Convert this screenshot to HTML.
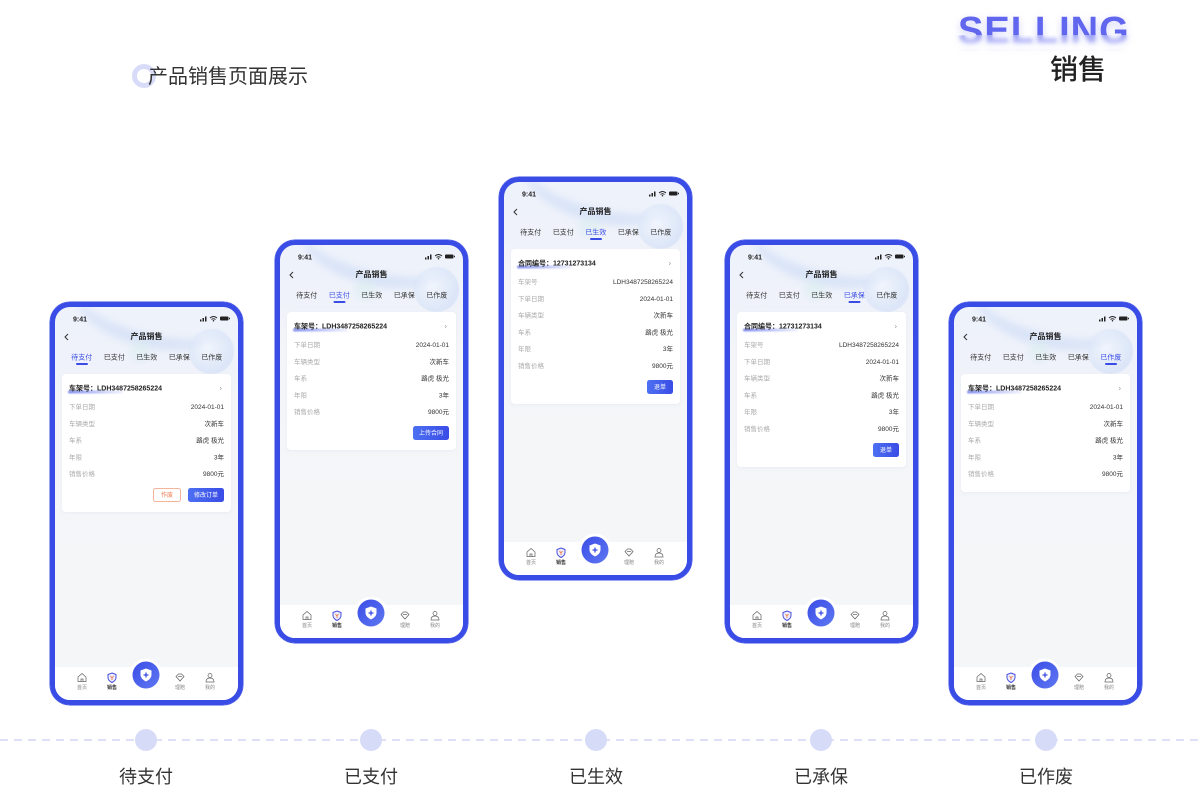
<!DOCTYPE html>
<html><head><meta charset="utf-8">
<style>
*{margin:0;padding:0;box-sizing:border-box}
body{width:1200px;height:800px;background:#fff;position:relative;overflow:hidden;font-family:"Liberation Sans","Noto Sans CJK SC",sans-serif;color:#333}
.abs{position:absolute}
.ph{position:absolute;width:386px;height:806px;transform:scale(.5);transform-origin:0 0;border:10px solid #3a4ce6;border-radius:40px;overflow:hidden;background:linear-gradient(180deg,#eef2fb 0,#eff2fa 110px,#f3f5f8 200px,#f5f6f8 100%);box-shadow:0 0 0 1px #3a4ce6}
.ph .circ{position:absolute;left:268px;top:44px;width:90px;height:90px;border-radius:50%;background:radial-gradient(circle at 40% 40%,rgba(245,248,255,.6) 0,rgba(215,228,248,.6) 50%,rgba(195,213,244,.5) 80%,rgba(210,222,246,.2) 100%);filter:blur(1px)}
.ph .sw{position:absolute;left:40px;top:-70px;width:300px;height:150px;border-radius:50%;border-bottom:26px solid rgba(175,200,240,.35);filter:blur(8px);transform:rotate(14deg)}
.ph .sw2{position:absolute;left:150px;top:70px;width:40px;height:40px;border-radius:50%;background:rgba(215,238,238,.5);filter:blur(6px)}
.ph .st{position:absolute;left:36px;top:14px;font-size:14px;font-weight:bold;color:#222;line-height:20px}
.ph .ic{position:absolute;left:290px;top:17px}
.ph .bk{position:absolute;left:18px;top:52px}
.ph .tt{position:absolute;left:0;top:48px;width:100%;text-align:center;font-size:16px;font-weight:bold;color:#222;line-height:24px}
.ph .tabs{position:absolute;left:21px;top:88px;display:flex}
.ph .tabs div{width:65px;text-align:center;font-size:14px;line-height:24px;color:#333}
.ph .tabs div.a{color:#3a4ce6}
.ph .ul{position:absolute;top:112px;width:24px;height:4px;border-radius:2px;background:#3a4ce6}
.ph .card{position:absolute;left:14px;top:134px;width:338px;background:#fff;border-radius:8px;padding:12px 14px 20px 14px;box-shadow:0 2px 6px rgba(120,130,180,.08)}
.ph .h{display:flex;justify-content:space-between;height:32px;line-height:32px;font-size:14px;font-weight:bold;color:#222;position:relative}
.ph .h span{position:relative;z-index:1}
.ph .h:before{content:"";position:absolute;left:-2px;top:21px;width:110px;height:6px;border-radius:3px;background:linear-gradient(90deg,rgba(80,100,235,.7),rgba(120,140,240,.1));filter:blur(1.5px)}
.ph .h i{font-style:normal;font-weight:normal;color:#888;font-size:14px;margin-right:4px}
.ph .rows{margin-top:5px}
.ph .r{display:flex;justify-content:space-between;height:33.6px;line-height:33.6px;font-size:13px}
.ph .r span:first-child{color:#aaa}
.ph .r span:last-child{color:#333}
.ph .btns{margin-top:11px;display:flex;justify-content:flex-end;gap:14px}
.ph .btn{height:28px;line-height:28px;font-size:12px;border-radius:5px;text-align:center;color:#fff;background:linear-gradient(90deg,#4d70f2,#3a4ce6)}
.ph .btn.o{background:#fff;color:#ef7a4c;border:2px solid #f3b49a;line-height:24px}
.ph .nav{position:absolute;left:0;top:720px;width:366px;height:66px;background:#fff}
.ph .ni{position:absolute;top:10px;width:40px;text-align:center}
.ph .ni svg{display:block;margin:0 auto}
.ph .ni div{font-size:10px;color:#888;line-height:14px;margin-top:3px}
.ph .ni.a div{color:#333;font-weight:bold}
.ph .cb{position:absolute;left:155px;top:709px;width:54px;height:54px;border-radius:50%;background:linear-gradient(135deg,#3a4ce6,#5f78f2);box-shadow:0 0 0 6px #fff}
.ph .cb svg{position:absolute;left:15px;top:13px}
.tl{position:absolute;left:0;top:739px;width:1200px;height:2px;background:repeating-linear-gradient(90deg,#dde0f6 0,#dde0f6 8px,transparent 8px,transparent 14px)}
.dot{position:absolute;top:729px;width:22px;height:22px;border-radius:50%;background:#d6dbf8}
.lb{position:absolute;top:766px;width:120px;text-align:center;font-size:18px;line-height:22px;color:#333}
.sell{position:absolute;left:958px;top:12px;font-size:38px;line-height:38px;font-weight:bold;letter-spacing:1px}
.sell.g{color:#6166ee}
.sell.b{color:rgba(120,125,240,.35);filter:blur(4px);top:15px}
.sellov{position:absolute;left:952px;top:35px;width:186px;height:14px;background:linear-gradient(180deg,rgba(255,255,255,.35),rgba(255,255,255,.75));backdrop-filter:blur(2px);-webkit-backdrop-filter:blur(2px)}
</style></head>
<body>

<div class="abs" style="left:132px;top:64px;width:24px;height:24px;border-radius:50%;border:5px solid #d8dcf8"></div>
<div class="abs" style="left:148px;top:67px;font-size:20px;line-height:20px;color:#333">产品销售页面展示</div>

<div class="sell b">SELLING</div>
<div class="sell g">SELLING</div>
<div class="sellov"></div>
<div class="abs" style="left:1050px;top:56px;font-size:28px;line-height:28px;font-weight:500;color:#222">销售</div>

<!-- Phone 1 -->
<div class="ph" style="left:50px;top:302px">
  <div class="sw"></div><div class="sw2"></div><div class="circ"></div>
  <div class="st">9:41</div>
  <svg class="ic" width="60" height="12" viewBox="0 0 60 12"><rect x="0" y="8" width="3" height="4" fill="#222"/><rect x="5" y="5" width="3" height="7" fill="#222"/><rect x="10" y="2" width="3" height="10" fill="#222"/><path d="M20 5 Q27 -1 34 5" stroke="#222" stroke-width="2" fill="none"/><path d="M23 8 Q27 5 31 8" stroke="#222" stroke-width="2" fill="none"/><circle cx="27" cy="10.5" r="1.5" fill="#222"/><rect x="40" y="2" width="17" height="8" rx="2" fill="#222"/><rect x="58" y="4.5" width="2" height="3" fill="#222"/></svg>
  <svg class="bk" width="10" height="16"><polyline points="8,2 2,8 8,14" stroke="#333" stroke-width="2" fill="none"/></svg>
  <div class="tt">产品销售</div>
  <div class="tabs"><div class="a">待支付</div><div>已支付</div><div>已生效</div><div>已承保</div><div>已作废</div></div>
  <div class="ul" style="left:41.5px"></div>
  <div class="card">
    <div class="h"><span>车架号：LDH3487258265224</span><i>›</i></div>
    <div class="rows">
      <div class="r"><span>下单日期</span><span>2024-01-01</span></div>
      <div class="r"><span>车辆类型</span><span>次新车</span></div>
      <div class="r"><span>车系</span><span>路虎 极光</span></div>
      <div class="r"><span>年限</span><span>3年</span></div>
      <div class="r"><span>销售价格</span><span>9800元</span></div>
    </div>
    <div class="btns"><div class="btn o" style="width:56px">作废</div><div class="btn" style="width:72px">修改订单</div></div>
  </div>
  <div class="nav">
    <div class="ni" style="left:34px"><svg width="22" height="22" viewBox="0 0 22 22"><path d="M3 10 L11 3 L19 10 V19 H3 Z" stroke="#666" stroke-width="1.5" fill="none"/><path d="M9 19 V14 H13 V19" stroke="#666" stroke-width="1.5" fill="none"/></svg><div>首页</div></div>
    <div class="ni a" style="left:94px"><svg width="22" height="22" viewBox="0 0 22 22"><path d="M11 2 L19 5 V11 C19 16 15 19 11 21 C7 19 3 16 3 11 V5 Z" stroke="#4a4fdc" stroke-width="2" fill="#eceefc"/><path d="M8 8 L11 12 L14 8 M11 12 V16" stroke="#ef7a4c" stroke-width="1.8" fill="none"/></svg><div>销售</div></div>
    <div class="ni" style="left:230px"><svg width="22" height="22" viewBox="0 0 22 22"><path d="M3 9 L8 4 H14 L19 9 L11 18 Z" stroke="#666" stroke-width="1.5" fill="none"/><path d="M7 9 H15" stroke="#666" stroke-width="1.5"/></svg><div>理赔</div></div>
    <div class="ni" style="left:290px"><svg width="22" height="22" viewBox="0 0 22 22"><circle cx="11" cy="7" r="4" stroke="#666" stroke-width="1.5" fill="none"/><path d="M3 20 C3 14 7 12 11 12 C15 12 19 14 19 20 Z" stroke="#666" stroke-width="1.5" fill="none"/></svg><div>我的</div></div>
  </div>
  <div class="cb"><svg width="24" height="28" viewBox="0 0 24 28"><path d="M12 1 L23 5 V13 C23 20 18 24 12 27 C6 24 1 20 1 13 V5 Z" fill="#fff"/><path d="M12 9 V19 M7 14 H17" stroke="#3a4ce6" stroke-width="2.6"/></svg></div>
</div>

<!-- Phone 2 -->
<div class="ph" style="left:275px;top:240px">
  <div class="sw"></div><div class="sw2"></div><div class="circ"></div>
  <div class="st">9:41</div>
  <svg class="ic" width="60" height="12" viewBox="0 0 60 12"><rect x="0" y="8" width="3" height="4" fill="#222"/><rect x="5" y="5" width="3" height="7" fill="#222"/><rect x="10" y="2" width="3" height="10" fill="#222"/><path d="M20 5 Q27 -1 34 5" stroke="#222" stroke-width="2" fill="none"/><path d="M23 8 Q27 5 31 8" stroke="#222" stroke-width="2" fill="none"/><circle cx="27" cy="10.5" r="1.5" fill="#222"/><rect x="40" y="2" width="17" height="8" rx="2" fill="#222"/><rect x="58" y="4.5" width="2" height="3" fill="#222"/></svg>
  <svg class="bk" width="10" height="16"><polyline points="8,2 2,8 8,14" stroke="#333" stroke-width="2" fill="none"/></svg>
  <div class="tt">产品销售</div>
  <div class="tabs"><div>待支付</div><div class="a">已支付</div><div>已生效</div><div>已承保</div><div>已作废</div></div>
  <div class="ul" style="left:106.5px"></div>
  <div class="card">
    <div class="h"><span>车架号：LDH3487258265224</span><i>›</i></div>
    <div class="rows">
      <div class="r"><span>下单日期</span><span>2024-01-01</span></div>
      <div class="r"><span>车辆类型</span><span>次新车</span></div>
      <div class="r"><span>车系</span><span>路虎 极光</span></div>
      <div class="r"><span>年限</span><span>3年</span></div>
      <div class="r"><span>销售价格</span><span>9800元</span></div>
    </div>
    <div class="btns"><div class="btn" style="width:72px">上传合同</div></div>
  </div>
  <div class="nav">
    <div class="ni" style="left:34px"><svg width="22" height="22" viewBox="0 0 22 22"><path d="M3 10 L11 3 L19 10 V19 H3 Z" stroke="#666" stroke-width="1.5" fill="none"/><path d="M9 19 V14 H13 V19" stroke="#666" stroke-width="1.5" fill="none"/></svg><div>首页</div></div>
    <div class="ni a" style="left:94px"><svg width="22" height="22" viewBox="0 0 22 22"><path d="M11 2 L19 5 V11 C19 16 15 19 11 21 C7 19 3 16 3 11 V5 Z" stroke="#4a4fdc" stroke-width="2" fill="#eceefc"/><path d="M8 8 L11 12 L14 8 M11 12 V16" stroke="#ef7a4c" stroke-width="1.8" fill="none"/></svg><div>销售</div></div>
    <div class="ni" style="left:230px"><svg width="22" height="22" viewBox="0 0 22 22"><path d="M3 9 L8 4 H14 L19 9 L11 18 Z" stroke="#666" stroke-width="1.5" fill="none"/><path d="M7 9 H15" stroke="#666" stroke-width="1.5"/></svg><div>理赔</div></div>
    <div class="ni" style="left:290px"><svg width="22" height="22" viewBox="0 0 22 22"><circle cx="11" cy="7" r="4" stroke="#666" stroke-width="1.5" fill="none"/><path d="M3 20 C3 14 7 12 11 12 C15 12 19 14 19 20 Z" stroke="#666" stroke-width="1.5" fill="none"/></svg><div>我的</div></div>
  </div>
  <div class="cb"><svg width="24" height="28" viewBox="0 0 24 28"><path d="M12 1 L23 5 V13 C23 20 18 24 12 27 C6 24 1 20 1 13 V5 Z" fill="#fff"/><path d="M12 9 V19 M7 14 H17" stroke="#3a4ce6" stroke-width="2.6"/></svg></div>
</div>

<!-- Phone 3 -->
<div class="ph" style="left:499px;top:177px">
  <div class="sw"></div><div class="sw2"></div><div class="circ"></div>
  <div class="st">9:41</div>
  <svg class="ic" width="60" height="12" viewBox="0 0 60 12"><rect x="0" y="8" width="3" height="4" fill="#222"/><rect x="5" y="5" width="3" height="7" fill="#222"/><rect x="10" y="2" width="3" height="10" fill="#222"/><path d="M20 5 Q27 -1 34 5" stroke="#222" stroke-width="2" fill="none"/><path d="M23 8 Q27 5 31 8" stroke="#222" stroke-width="2" fill="none"/><circle cx="27" cy="10.5" r="1.5" fill="#222"/><rect x="40" y="2" width="17" height="8" rx="2" fill="#222"/><rect x="58" y="4.5" width="2" height="3" fill="#222"/></svg>
  <svg class="bk" width="10" height="16"><polyline points="8,2 2,8 8,14" stroke="#333" stroke-width="2" fill="none"/></svg>
  <div class="tt">产品销售</div>
  <div class="tabs"><div>待支付</div><div>已支付</div><div class="a">已生效</div><div>已承保</div><div>已作废</div></div>
  <div class="ul" style="left:171.5px"></div>
  <div class="card">
    <div class="h"><span>合同编号：12731273134</span><i>›</i></div>
    <div class="rows">
      <div class="r"><span>车架号</span><span>LDH3487258265224</span></div>
      <div class="r"><span>下单日期</span><span>2024-01-01</span></div>
      <div class="r"><span>车辆类型</span><span>次新车</span></div>
      <div class="r"><span>车系</span><span>路虎 极光</span></div>
      <div class="r"><span>年限</span><span>3年</span></div>
      <div class="r"><span>销售价格</span><span>9800元</span></div>
    </div>
    <div class="btns"><div class="btn" style="width:52px">退单</div></div>
  </div>
  <div class="nav">
    <div class="ni" style="left:34px"><svg width="22" height="22" viewBox="0 0 22 22"><path d="M3 10 L11 3 L19 10 V19 H3 Z" stroke="#666" stroke-width="1.5" fill="none"/><path d="M9 19 V14 H13 V19" stroke="#666" stroke-width="1.5" fill="none"/></svg><div>首页</div></div>
    <div class="ni a" style="left:94px"><svg width="22" height="22" viewBox="0 0 22 22"><path d="M11 2 L19 5 V11 C19 16 15 19 11 21 C7 19 3 16 3 11 V5 Z" stroke="#4a4fdc" stroke-width="2" fill="#eceefc"/><path d="M8 8 L11 12 L14 8 M11 12 V16" stroke="#ef7a4c" stroke-width="1.8" fill="none"/></svg><div>销售</div></div>
    <div class="ni" style="left:230px"><svg width="22" height="22" viewBox="0 0 22 22"><path d="M3 9 L8 4 H14 L19 9 L11 18 Z" stroke="#666" stroke-width="1.5" fill="none"/><path d="M7 9 H15" stroke="#666" stroke-width="1.5"/></svg><div>理赔</div></div>
    <div class="ni" style="left:290px"><svg width="22" height="22" viewBox="0 0 22 22"><circle cx="11" cy="7" r="4" stroke="#666" stroke-width="1.5" fill="none"/><path d="M3 20 C3 14 7 12 11 12 C15 12 19 14 19 20 Z" stroke="#666" stroke-width="1.5" fill="none"/></svg><div>我的</div></div>
  </div>
  <div class="cb"><svg width="24" height="28" viewBox="0 0 24 28"><path d="M12 1 L23 5 V13 C23 20 18 24 12 27 C6 24 1 20 1 13 V5 Z" fill="#fff"/><path d="M12 9 V19 M7 14 H17" stroke="#3a4ce6" stroke-width="2.6"/></svg></div>
</div>

<!-- Phone 4 -->
<div class="ph" style="left:725px;top:240px">
  <div class="sw"></div><div class="sw2"></div><div class="circ"></div>
  <div class="st">9:41</div>
  <svg class="ic" width="60" height="12" viewBox="0 0 60 12"><rect x="0" y="8" width="3" height="4" fill="#222"/><rect x="5" y="5" width="3" height="7" fill="#222"/><rect x="10" y="2" width="3" height="10" fill="#222"/><path d="M20 5 Q27 -1 34 5" stroke="#222" stroke-width="2" fill="none"/><path d="M23 8 Q27 5 31 8" stroke="#222" stroke-width="2" fill="none"/><circle cx="27" cy="10.5" r="1.5" fill="#222"/><rect x="40" y="2" width="17" height="8" rx="2" fill="#222"/><rect x="58" y="4.5" width="2" height="3" fill="#222"/></svg>
  <svg class="bk" width="10" height="16"><polyline points="8,2 2,8 8,14" stroke="#333" stroke-width="2" fill="none"/></svg>
  <div class="tt">产品销售</div>
  <div class="tabs"><div>待支付</div><div>已支付</div><div>已生效</div><div class="a">已承保</div><div>已作废</div></div>
  <div class="ul" style="left:236.5px"></div>
  <div class="card">
    <div class="h"><span>合同编号：12731273134</span><i>›</i></div>
    <div class="rows">
      <div class="r"><span>车架号</span><span>LDH3487258265224</span></div>
      <div class="r"><span>下单日期</span><span>2024-01-01</span></div>
      <div class="r"><span>车辆类型</span><span>次新车</span></div>
      <div class="r"><span>车系</span><span>路虎 极光</span></div>
      <div class="r"><span>年限</span><span>3年</span></div>
      <div class="r"><span>销售价格</span><span>9800元</span></div>
    </div>
    <div class="btns"><div class="btn" style="width:52px">退单</div></div>
  </div>
  <div class="nav">
    <div class="ni" style="left:34px"><svg width="22" height="22" viewBox="0 0 22 22"><path d="M3 10 L11 3 L19 10 V19 H3 Z" stroke="#666" stroke-width="1.5" fill="none"/><path d="M9 19 V14 H13 V19" stroke="#666" stroke-width="1.5" fill="none"/></svg><div>首页</div></div>
    <div class="ni a" style="left:94px"><svg width="22" height="22" viewBox="0 0 22 22"><path d="M11 2 L19 5 V11 C19 16 15 19 11 21 C7 19 3 16 3 11 V5 Z" stroke="#4a4fdc" stroke-width="2" fill="#eceefc"/><path d="M8 8 L11 12 L14 8 M11 12 V16" stroke="#ef7a4c" stroke-width="1.8" fill="none"/></svg><div>销售</div></div>
    <div class="ni" style="left:230px"><svg width="22" height="22" viewBox="0 0 22 22"><path d="M3 9 L8 4 H14 L19 9 L11 18 Z" stroke="#666" stroke-width="1.5" fill="none"/><path d="M7 9 H15" stroke="#666" stroke-width="1.5"/></svg><div>理赔</div></div>
    <div class="ni" style="left:290px"><svg width="22" height="22" viewBox="0 0 22 22"><circle cx="11" cy="7" r="4" stroke="#666" stroke-width="1.5" fill="none"/><path d="M3 20 C3 14 7 12 11 12 C15 12 19 14 19 20 Z" stroke="#666" stroke-width="1.5" fill="none"/></svg><div>我的</div></div>
  </div>
  <div class="cb"><svg width="24" height="28" viewBox="0 0 24 28"><path d="M12 1 L23 5 V13 C23 20 18 24 12 27 C6 24 1 20 1 13 V5 Z" fill="#fff"/><path d="M12 9 V19 M7 14 H17" stroke="#3a4ce6" stroke-width="2.6"/></svg></div>
</div>

<!-- Phone 5 -->
<div class="ph" style="left:949px;top:302px">
  <div class="sw"></div><div class="sw2"></div><div class="circ"></div>
  <div class="st">9:41</div>
  <svg class="ic" width="60" height="12" viewBox="0 0 60 12"><rect x="0" y="8" width="3" height="4" fill="#222"/><rect x="5" y="5" width="3" height="7" fill="#222"/><rect x="10" y="2" width="3" height="10" fill="#222"/><path d="M20 5 Q27 -1 34 5" stroke="#222" stroke-width="2" fill="none"/><path d="M23 8 Q27 5 31 8" stroke="#222" stroke-width="2" fill="none"/><circle cx="27" cy="10.5" r="1.5" fill="#222"/><rect x="40" y="2" width="17" height="8" rx="2" fill="#222"/><rect x="58" y="4.5" width="2" height="3" fill="#222"/></svg>
  <svg class="bk" width="10" height="16"><polyline points="8,2 2,8 8,14" stroke="#333" stroke-width="2" fill="none"/></svg>
  <div class="tt">产品销售</div>
  <div class="tabs"><div>待支付</div><div>已支付</div><div>已生效</div><div>已承保</div><div class="a">已作废</div></div>
  <div class="ul" style="left:301.5px"></div>
  <div class="card" style="padding-bottom:19px">
    <div class="h"><span>车架号：LDH3487258265224</span><i>›</i></div>
    <div class="rows">
      <div class="r"><span>下单日期</span><span>2024-01-01</span></div>
      <div class="r"><span>车辆类型</span><span>次新车</span></div>
      <div class="r"><span>车系</span><span>路虎 极光</span></div>
      <div class="r"><span>年限</span><span>3年</span></div>
      <div class="r"><span>销售价格</span><span>9800元</span></div>
    </div>
  </div>
  <div class="nav">
    <div class="ni" style="left:34px"><svg width="22" height="22" viewBox="0 0 22 22"><path d="M3 10 L11 3 L19 10 V19 H3 Z" stroke="#666" stroke-width="1.5" fill="none"/><path d="M9 19 V14 H13 V19" stroke="#666" stroke-width="1.5" fill="none"/></svg><div>首页</div></div>
    <div class="ni a" style="left:94px"><svg width="22" height="22" viewBox="0 0 22 22"><path d="M11 2 L19 5 V11 C19 16 15 19 11 21 C7 19 3 16 3 11 V5 Z" stroke="#4a4fdc" stroke-width="2" fill="#eceefc"/><path d="M8 8 L11 12 L14 8 M11 12 V16" stroke="#ef7a4c" stroke-width="1.8" fill="none"/></svg><div>销售</div></div>
    <div class="ni" style="left:230px"><svg width="22" height="22" viewBox="0 0 22 22"><path d="M3 9 L8 4 H14 L19 9 L11 18 Z" stroke="#666" stroke-width="1.5" fill="none"/><path d="M7 9 H15" stroke="#666" stroke-width="1.5"/></svg><div>理赔</div></div>
    <div class="ni" style="left:290px"><svg width="22" height="22" viewBox="0 0 22 22"><circle cx="11" cy="7" r="4" stroke="#666" stroke-width="1.5" fill="none"/><path d="M3 20 C3 14 7 12 11 12 C15 12 19 14 19 20 Z" stroke="#666" stroke-width="1.5" fill="none"/></svg><div>我的</div></div>
  </div>
  <div class="cb"><svg width="24" height="28" viewBox="0 0 24 28"><path d="M12 1 L23 5 V13 C23 20 18 24 12 27 C6 24 1 20 1 13 V5 Z" fill="#fff"/><path d="M12 9 V19 M7 14 H17" stroke="#3a4ce6" stroke-width="2.6"/></svg></div>
</div>

<!-- timeline -->
<div class="tl"></div>
<div class="dot" style="left:135px"></div>
<div class="dot" style="left:360px"></div>
<div class="dot" style="left:585px"></div>
<div class="dot" style="left:810px"></div>
<div class="dot" style="left:1035px"></div>
<div class="lb" style="left:86px">待支付</div>
<div class="lb" style="left:311px">已支付</div>
<div class="lb" style="left:536px">已生效</div>
<div class="lb" style="left:761px">已承保</div>
<div class="lb" style="left:986px">已作废</div>

</body></html>
